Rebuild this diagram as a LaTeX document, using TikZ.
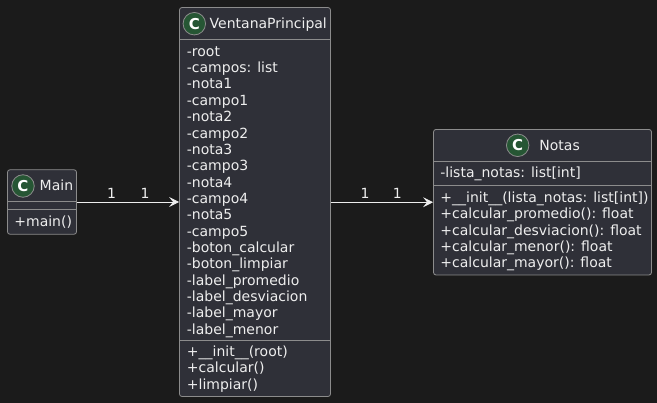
\documentclass[tikz,border=0pt]{standalone}
\usepackage{fontspec}
\setmainfont{DejaVu Sans}
\usetikzlibrary{arrows.meta}

\definecolor{bgcol}{RGB}{27,27,27}
\definecolor{boxfill}{RGB}{47,48,56}
\definecolor{boxline}{RGB}{140,140,140}
\definecolor{txtcol}{RGB}{238,238,238}
\definecolor{iconfill}{RGB}{38,86,52}

\tikzset{every picture/.style={line width=0.8pt}}
\tikzset{
  classbox/.style={draw=boxline, fill=boxfill, rounded corners=2.5pt, inner sep=0pt},
  sepline/.style={draw=boxline},
  classicon/.style={circle, draw=boxline, fill=iconfill, minimum size=22.5pt, inner sep=0pt,
    text=white, font=\fontsize{15}{15}\bfseries\selectfont},
  ctitle/.style={anchor=base west, inner sep=0pt, text=txtcol, font=\fontsize{14}{16}\selectfont},
  member/.style={anchor=base west, inner sep=0pt, text=txtcol, font=\fontsize{14}{16}\selectfont},
  assoc/.style={draw=txtcol, -{Stealth[length=10pt,width=10pt,inset=4pt]}},
  mult/.style={anchor=base, inner sep=0pt, text=txtcol, font=\fontsize{14}{16}\selectfont}
}

\begin{document}
\begin{tikzpicture}[x=1pt,y=1pt,yscale=-1,xscale=1]
% background
\fill[bgcol] (0,0) rectangle (657,403);

% Class: Main
\node[classbox, minimum width=69pt, minimum height=64.5pt] (main) at (42,202) {};
\draw[sepline] ([yshift=32.2pt]main.north west) -- ([yshift=32.2pt]main.north east);
\draw[sepline] ([yshift=39.8pt]main.north west) -- ([yshift=39.8pt]main.north east);
\node[classicon] (mainicon) at (23,186) {C};
\node[ctitle] (maintitle) at (39.3,190.7) {Main};
\node[member] (mainop0) at (14,226.3) {+main()};

% Class: VentanaPrincipal
\node[classbox, minimum width=151pt, minimum height=389pt] (vp) at (255,202) {};
\draw[sepline] ([yshift=32pt]vp.north west) -- ([yshift=32pt]vp.north east);
\draw[sepline] ([yshift=333.2pt]vp.north west) -- ([yshift=333.2pt]vp.north east);
\node[classicon] (vpicon) at (194.3,23.7) {C};
\node[ctitle] (vptitle) at (209.3,28.5) {VentanaPrincipal};
\foreach \txt [count=\i from 0] in {-root,-campos: list,-nota1,-campo1,-nota2,-campo2,-nota3,-campo3,-nota4,-campo4,-nota5,-campo5,-boton\_calcular,-boton\_limpiar,-label\_promedio,-label\_desviacion,-label\_mayor,-label\_menor}
  \node[member] (vpattr\i) at (186.5,{56.3+16.35*\i}) {\txt};
\foreach \txt [count=\i from 0] in {+\_\_init\_\_(root),+calcular(),+limpiar()}
  \node[member] (vpop\i) at (186.5,{356.5+16.35*\i}) {\txt};

% Class: Notas
\node[classbox, minimum width=218pt, minimum height=145.5pt] (notas) at (542.5,202.2) {};
\draw[sepline] ([yshift=32.2pt]notas.north west) -- ([yshift=32.2pt]notas.north east);
\draw[sepline] ([yshift=56.2pt]notas.north west) -- ([yshift=56.2pt]notas.north east);
\node[classicon] (notasicon) at (517.7,145.3) {C};
\node[ctitle] (notastitle) at (539,150.2) {Notas};
\node[member] (notasattr0) at (440,177.5) {-lista\_notas: list[int]};
\foreach \txt [count=\i from 0] in {+\_\_init\_\_(lista\_notas: list[int]),+calcular\_promedio(): float,+calcular\_desviacion(): float,+calcular\_menor(): float,+calcular\_mayor(): float}
  \node[member] (notasop\i) at (440,{202.6+16.35*\i}) {\txt};

% Associations
\draw[assoc] (main.east) -- (vp.west);
\node[mult] (m1) at (111.7,198.3) {1};
\node[mult] (m2) at (145,198.3) {1};
\draw[assoc] (vp.east |- notas.west) -- (notas.west);
\node[mult] (m3) at (365,198.3) {1};
\node[mult] (m4) at (397.3,198.3) {1};

\end{tikzpicture}
\end{document}
